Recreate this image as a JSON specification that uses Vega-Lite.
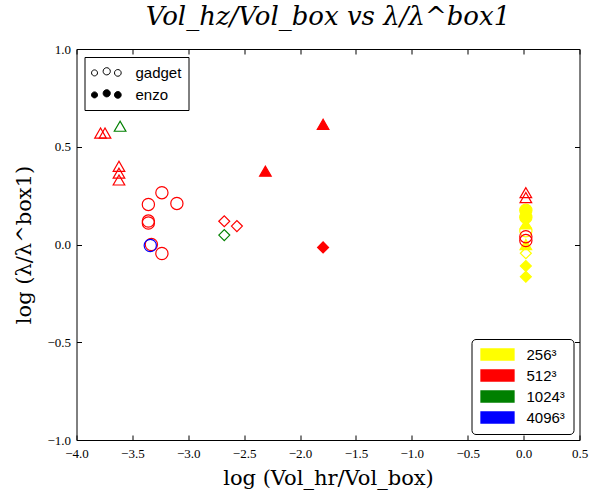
{
  "$schema": "https://vega.github.io/schema/vega-lite/v6.json",
  "width": 503,
  "height": 391,
  "autosize": {"type": "none"},
  "padding": {"left": 76.5, "top": 49, "right": 12.5, "bottom": 52},
  "background": "white",
  "title": {"text": "Vol_hz/Vol_box vs λ/λ^box1", "font": "DejaVu Serif", "fontStyle": "italic", "fontSize": 26, "fontWeight": "normal", "offset": 13, "color": "black", "anchor": "middle"},
  "config": {
    "view": {"stroke": "black", "strokeWidth": 1},
    "axis": {"grid": false, "domain": false, "tickColor": "black", "tickSize": -5, "tickWidth": 1, "labelFont": "Liberation Serif", "labelFontSize": 13, "labelColor": "black", "labelFlush": false, "labelOverlap": false, "titleFont": "DejaVu Serif", "titleFontWeight": "normal", "titleFontSize": 21, "titleColor": "black", "labelPadding": 9},
    "legend": {"symbolStrokeColor": "black", "symbolStrokeWidth": 1}
  },
  "data": {"values": [
    {"x": 0.02, "y": 0.175, "res": "256³", "code": "enzo", "marker": "circle"},
    {"x": 0.02, "y": 0.14, "res": "256³", "code": "enzo", "marker": "circle"},
    {"x": 0.02, "y": 0.105, "res": "256³", "code": "enzo", "marker": "triangle"},
    {"x": 0.02, "y": 0.0, "res": "256³", "code": "enzo", "marker": "triangle"},
    {"x": 0.02, "y": -0.11, "res": "256³", "code": "enzo", "marker": "diamond"},
    {"x": 0.02, "y": -0.165, "res": "256³", "code": "enzo", "marker": "diamond"},
    {"x": 0.02, "y": 0.07, "res": "256³", "code": "gadget", "marker": "circle"},
    {"x": 0.02, "y": -0.045, "res": "256³", "code": "gadget", "marker": "diamond"},
    {"x": -3.785, "y": 0.57, "res": "512³", "code": "gadget", "marker": "triangle"},
    {"x": -3.745, "y": 0.57, "res": "512³", "code": "gadget", "marker": "triangle"},
    {"x": -3.62, "y": 0.40, "res": "512³", "code": "gadget", "marker": "triangle"},
    {"x": -3.62, "y": 0.365, "res": "512³", "code": "gadget", "marker": "triangle"},
    {"x": -3.62, "y": 0.33, "res": "512³", "code": "gadget", "marker": "triangle"},
    {"x": 0.02, "y": 0.265, "res": "512³", "code": "gadget", "marker": "triangle"},
    {"x": 0.02, "y": 0.24, "res": "512³", "code": "gadget", "marker": "triangle"},
    {"x": -3.357, "y": 0.205, "res": "512³", "code": "gadget", "marker": "circle"},
    {"x": -3.236, "y": 0.265, "res": "512³", "code": "gadget", "marker": "circle"},
    {"x": -3.102, "y": 0.21, "res": "512³", "code": "gadget", "marker": "circle"},
    {"x": -3.357, "y": 0.12, "res": "512³", "code": "gadget", "marker": "circle"},
    {"x": -3.357, "y": 0.11, "res": "512³", "code": "gadget", "marker": "circle"},
    {"x": -3.33, "y": 0.0, "res": "512³", "code": "gadget", "marker": "circle"},
    {"x": -3.236, "y": -0.046, "res": "512³", "code": "gadget", "marker": "circle"},
    {"x": 0.02, "y": 0.04, "res": "512³", "code": "gadget", "marker": "circle"},
    {"x": 0.02, "y": 0.02, "res": "512³", "code": "gadget", "marker": "circle"},
    {"x": -2.678, "y": 0.119, "res": "512³", "code": "gadget", "marker": "diamond"},
    {"x": -2.565, "y": 0.094, "res": "512³", "code": "gadget", "marker": "diamond"},
    {"x": -2.31, "y": 0.375, "res": "512³", "code": "enzo", "marker": "triangle"},
    {"x": -1.794, "y": 0.615, "res": "512³", "code": "enzo", "marker": "triangle"},
    {"x": -1.794, "y": -0.015, "res": "512³", "code": "enzo", "marker": "diamond"},
    {"x": -3.61, "y": 0.605, "res": "1024³", "code": "gadget", "marker": "triangle"},
    {"x": -2.678, "y": 0.048, "res": "1024³", "code": "gadget", "marker": "diamond"},
    {"x": -3.34, "y": -0.005, "res": "4096³", "code": "gadget", "marker": "circle"}
  ]},
  "layer": [
    {
      "mark": {"type": "point", "filled": true, "opacity": 1, "strokeWidth": 1.2},
      "encoding": {
        "x": {"field": "x", "type": "quantitative", "scale": {"domain": [-4, 0.5], "nice": false, "zero": false},
          "axis": {"orient": "bottom", "values": [-4, -3.5, -3, -2.5, -2, -1.5, -1, -0.5, 0, 0.5], "format": ".1f", "title": "log (Vol_hr/Vol_box)", "labelPadding": 12, "titlePadding": 7}},
        "y": {"field": "y", "type": "quantitative", "scale": {"domain": [-1, 1], "nice": false, "zero": false},
          "axis": {"orient": "left", "values": [-1, -0.5, 0, 0.5, 1], "format": ".1f", "title": "log (λ/λ^box1)", "labelPadding": 11, "titlePadding": 12}},
        "color": {"field": "res", "type": "nominal",
          "scale": {"domain": ["256³", "512³", "1024³", "4096³"], "range": ["#ffff00", "#ff0000", "#008000", "#0000ff"]},
          "legend": {"title": null, "orient": "bottom-right", "offset": 6, "strokeColor": "black", "fillColor": "white", "cornerRadius": 4, "padding": 8,
            "symbolType": "M-1,-0.917H4.5V0.917H-1Z", "symbolSize": 144, "labelOffset": 32, "rowPadding": 4,
            "symbolStrokeColor": "black", "symbolStrokeWidth": 1.3,
            "labelFont": "Liberation Sans", "labelFontSize": 15, "labelColor": "black",
            "encode": {"symbols": {"stroke": {"value": "black"}, "strokeWidth": {"value": 1.3}, "fillOpacity": {"value": 1}, "opacity": {"value": 1}}}}},
        "stroke": {"field": "res", "type": "nominal",
          "scale": {"domain": ["256³", "512³", "1024³", "4096³"], "range": ["#ffff00", "#ff0000", "#008000", "#0000ff"]},
          "legend": null},
        "fillOpacity": {"field": "code", "type": "ordinal",
          "scale": {"domain": ["gadget", "enzo"], "range": [0, 1]}, "legend": null},
        "shape": {"field": "marker", "type": "nominal",
          "scale": {"domain": ["circle", "triangle", "diamond"], "range": ["circle", "triangle-up", "diamond"]}, "legend": null},
        "size": {"field": "marker", "type": "nominal",
          "scale": {"domain": ["circle", "triangle", "diamond"], "range": [150, 120, 100]}, "legend": null}
      }
    },
    {
      "transform": [{"filter": "datum.x > 100"}],
      "mark": {"type": "point", "filled": true, "opacity": 1},
      "encoding": {
        "x": {"field": "x", "type": "quantitative", "axis": null},
        "y": {"field": "y", "type": "quantitative", "axis": null},
        "fill": {"field": "code", "type": "nominal",
          "scale": {"domain": ["gadget", "enzo"], "range": ["white", "black"]},
          "legend": {"title": null, "orient": "top-left", "offset": 8, "strokeColor": "black", "fillColor": "white", "padding": 7,
            "symbolType": "M-1.06,0.05A0.375,0.375 0 1,0 -0.31,0.05A0.375,0.375 0 1,0 -1.06,0.05ZM0.39,-0.15A0.45,0.45 0 1,0 1.29,-0.15A0.45,0.45 0 1,0 0.39,-0.15ZM1.81,0.05A0.42,0.42 0 1,0 2.65,0.05A0.42,0.42 0 1,0 1.81,0.05Z",
            "symbolSize": 256, "labelOffset": 27, "rowPadding": 5,
            "symbolStrokeColor": "black", "symbolStrokeWidth": 1,
            "labelFont": "Liberation Sans", "labelFontSize": 15, "labelColor": "black"}}
      }
    },
    {
      "mark": {"type": "point", "opacity": 0},
      "encoding": {
        "x": {"field": "x", "type": "quantitative", "axis": {"orient": "top", "values": [-4, -3.5, -3, -2.5, -2, -1.5, -1, -0.5, 0, 0.5], "labels": false, "title": null}},
        "y": {"field": "y", "type": "quantitative", "axis": {"orient": "right", "values": [-1, -0.5, 0, 0.5, 1], "labels": false, "title": null}}
      }
    }
  ],
  "resolve": {"axis": {"x": "independent", "y": "independent"}}
}
